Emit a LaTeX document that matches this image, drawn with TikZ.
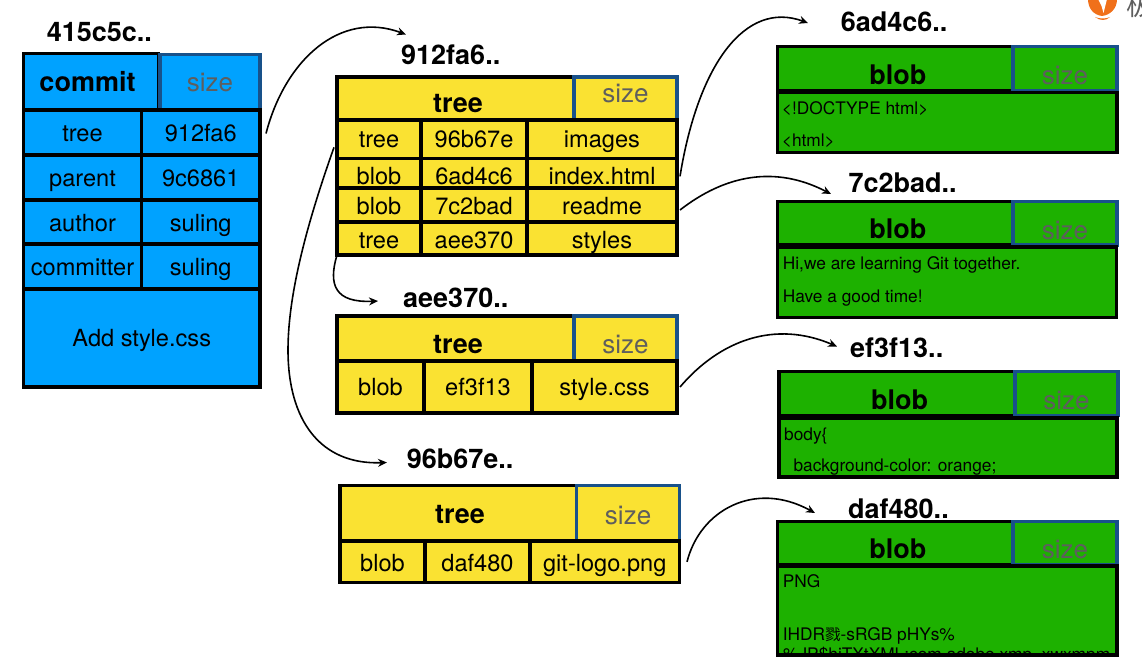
\documentclass[tikz,border=0pt]{standalone}
\usepackage{fontspec}
\setmainfont{TeX Gyre Heros}
\newfontfamily\cjkfont{Noto Sans CJK SC}
\usetikzlibrary{arrows.meta}
\definecolor{commitblue}{HTML}{00A2FF}
\definecolor{treeyellow}{HTML}{FAE232}
\definecolor{blobgreen}{HTML}{1DB100}
\definecolor{sizeline}{HTML}{18518A}
\definecolor{sizegray}{HTML}{5E5E5E}
\definecolor{logoorange}{HTML}{F0701A}
\newcommand{\cellbox}[7][]{\node[cell,#1,minimum width={(#5-#3)*1pt},minimum height={(#6-#4)*1pt}] (#2) at ({(#3+#5)/2},{(#4+#6)/2}) {#7};}
\tikzset{
    cell/.style = {draw=black, line width=3.4pt, inner sep=0pt, outer sep=0pt, font=\fontsize{23.6}{28}\selectfont, drop=17pt},
    drop/.style = {text height=#1, text depth=0pt},
    commitcell/.style = {cell, fill=commitblue},
    treecell/.style = {cell, fill=treeyellow},
    blobcell/.style = {cell, fill=blobgreen},
    headtext/.style = {font=\fontsize{27}{30}\selectfont\bfseries},
    sizetext/.style = {draw=sizeline, text=sizegray, font=\fontsize{26}{30}\selectfont},
    hash/.style = {inner sep=0pt, anchor=base west, font=\fontsize{27}{30}\selectfont\bfseries},
    bodytext/.style = {inner sep=0pt, anchor=base west, font=\fontsize{17.3}{20}\selectfont},
    link/.style = {line width=1.6pt, -{Stealth[length=9pt,width=8pt]}}
}
\begin{document}
\begin{tikzpicture}[x=1pt,y=-1pt]
    \useasboundingbox (0,0) rectangle (1142,669);

    \node[hash] (lblCommit) at (46.7,41.7) {415c5c..};
    \cellbox[commitcell,headtext,drop=20pt]{cHead}{23.5}{53.5}{158.5}{110}{commit\kern7pt}
    \cellbox[commitcell,sizetext,drop=18pt]{cSize}{160}{54.5}{260}{110}{size}
    \cellbox[commitcell]{cTreeK}{23.5}{110}{141.5}{155}{tree}
    \cellbox[commitcell]{cTreeV}{141.5}{110}{260}{155}{912fa6}
    \cellbox[commitcell]{cParentK}{23.5}{155}{141.5}{200}{parent}
    \cellbox[commitcell]{cParentV}{141.5}{155}{260}{200}{9c6861}
    \cellbox[commitcell,drop=18pt]{cAuthorK}{23.5}{200}{141.5}{244}{author}
    \cellbox[commitcell,drop=18pt]{cAuthorV}{141.5}{200}{260}{244}{suling}
    \cellbox[commitcell]{cCommitterK}{23.5}{244}{141.5}{289}{committer}
    \cellbox[commitcell]{cCommitterV}{141.5}{244}{260}{289}{suling}
    \cellbox[commitcell,drop=17pt]{cMsg}{23.5}{289}{260}{387}{Add style.css}

    \node[hash] (lblRoot) at (401,64.5) {912fa6..};
    \cellbox[treecell,headtext,drop=28pt]{rHead}{337}{77}{579}{120}{tree}
    \cellbox[treecell,sizetext,drop=8.4pt]{rSize}{574}{77}{677}{120}{size}
    \cellbox[treecell,drop=16pt]{rImgA}{337}{120}{421}{158.7}{tree}
    \cellbox[treecell,drop=16pt]{rImgB}{421}{120}{527}{158.7}{96b67e}
    \cellbox[treecell,drop=16pt]{rImgC}{527}{120}{677}{158.7}{images}
    \cellbox[treecell,drop=22pt]{rIdxA}{337}{158.7}{421}{188}{blob}
    \cellbox[treecell,drop=22pt]{rIdxB}{421}{158.7}{527}{188}{6ad4c6}
    \cellbox[treecell,drop=22pt]{rIdxC}{527}{158.7}{677}{188}{index.html}
    \cellbox[treecell,drop=18pt]{rReadA}{337}{188}{421}{222}{blob}
    \cellbox[treecell,drop=18pt]{rReadB}{421}{188}{527}{222}{7c2bad}
    \cellbox[treecell,drop=18pt]{rReadC}{527}{188}{677}{222}{readme}
    \cellbox[treecell,drop=19pt]{rStyA}{337}{222}{421}{255}{tree}
    \cellbox[treecell,drop=19pt]{rStyB}{421}{222}{527}{255}{aee370}
    \cellbox[treecell,drop=19pt]{rStyC}{527}{222}{677}{255}{styles}

    \node[hash] (lblStyles) at (403,307) {aee370..};
    \cellbox[treecell,headtext,drop=30pt]{sHead}{337}{316}{579}{361}{tree}
    \cellbox[treecell,sizetext,drop=30pt]{sSize}{574}{316}{677}{361}{size}
    \cellbox[treecell,drop=16pt]{sCssA}{337}{361}{424}{413}{blob}
    \cellbox[treecell,drop=16pt]{sCssB}{424}{361}{532}{413}{ef3f13}
    \cellbox[treecell,drop=16pt]{sCssC}{532}{361}{677}{413}{style.css}

    \node[hash] (lblImages) at (406.7,468.7) {96b67e..};
    \cellbox[treecell,headtext,drop=21pt]{iHead}{340}{485.7}{580}{541}{tree}
    \cellbox[treecell,sizetext,drop=21.4pt]{iSize}{576.7}{485.7}{679.5}{541}{size}
    \cellbox[treecell,drop=19pt]{iPngA}{340}{541}{425}{582.7}{blob}
    \cellbox[treecell,drop=19pt]{iPngB}{425}{541}{530}{582.7}{daf480}
    \cellbox[treecell,drop=19pt]{iPngC}{530}{541}{679.5}{582.7}{git-logo.png}

    \node[hash] (lblHtml) at (840.7,31.7) {6ad4c6..};
    \cellbox[blobcell,headtext,drop=32pt]{hHead}{777.5}{46.7}{1018}{90.5}{blob}
    \cellbox[blobcell,sizetext,drop=32pt]{hSize}{1013}{46.7}{1117}{90.5}{size}
    \cellbox[blobcell]{hBody}{777.5}{92.7}{1117}{152.7}{}
    \node[bodytext] (hLineA) at (781.7,114.5) {<!DOCTYPE html>};
    \node[bodytext] (hLineB) at (781.7,146.5) {<html>};

    \node[hash] (lblRead) at (848.3,192.7) {7c2bad..};
    \cellbox[blobcell,headtext,drop=31pt]{dHead}{777.5}{201.7}{1018}{245}{blob}
    \cellbox[blobcell,sizetext,drop=31.6pt]{dSize}{1013}{201.7}{1117}{245}{size}
    \cellbox[blobcell]{dBody}{777.5}{247}{1116.7}{317.5}{}
    \node[bodytext] (dLineA) at (782.7,269.7) {Hi,we are learning Git together.};
    \node[bodytext] (dLineB) at (782.7,302) {Have a good time!};

    \node[hash] (lblCss) at (850,357) {ef3f13..};
    \cellbox[blobcell,headtext,drop=32pt]{yHead}{779}{371.7}{1020}{415.5}{blob}
    \cellbox[blobcell,sizetext,drop=32pt]{ySize}{1015}{371.7}{1118}{415.5}{size}
    \cellbox[blobcell]{yBody}{779}{418}{1117}{477}{}
    \node[bodytext] (yLineA) at (784,440) {body\{};
    \node[bodytext] (yLineB) at (793.3,471.4) {background-color: orange;};

    \node[hash] (lblPng) at (848,518.3) {daf480..};
    \cellbox[blobcell,headtext,drop=31pt]{pHead}{777.5}{521.7}{1018}{565}{blob}
    \cellbox[blobcell,sizetext,drop=31pt]{pSize}{1013}{521.7}{1117}{565}{size}
    \cellbox[blobcell]{pBody}{777.5}{566}{1117}{655}{}
    \node[bodytext] (pLineA) at (782.7,587.4) {PNG};
    \node[bodytext] (pLineB) at (782.7,640) {IHDR{\cjkfont\fontsize{15.5}{20}\selectfont 戮}-sRGB pHYs\%};
    \begin{scope}
        \clip (pBody.north west) rectangle (pBody.south east);
        \node[bodytext] (pLineC) at (783,660.5) {\%JP\$hiTXtXML:com.adobe.xmp\ \ xwxmpm};
    \end{scope}

    \coordinate (toRoot) at (406,34.5);
    \coordinate (toStyles) at (378,301);
    \coordinate (toImages) at (387,462.5);
    \coordinate (toHtml) at (808,23);
    \coordinate (toRead) at (831,194);
    \coordinate (toCss) at (837,346.5);
    \coordinate (toPng) at (815,513);

    \draw[link] ([shift={(6pt,-1pt)}]cTreeV.east) .. controls (285,60) and (340,10) .. (toRoot);
    \draw[link] ([shift={(-3pt,-8pt)}]rImgA.west) .. controls (310,215) and (288,290) .. (288,350) .. controls (288,420) and (320,465) .. (toImages);
    \draw[link] (rStyA.south west) .. controls (328,285) and (335,303) .. (toStyles);
    \draw[link] ([shift={(3pt,-3pt)}]rIdxC.east) .. controls (698,65) and (745,0) .. (toHtml);
    \draw[link] ([shift={(3pt,-5pt)}]rReadC.east) .. controls (725,175) and (775,165) .. (toRead);
    \draw[link] ([xshift=3pt]sCssC.east) .. controls (720,340) and (775,320) .. (toCss);
    \draw[link] ([xshift=7.5pt]iPngC.east) .. controls (700,510) and (755,480) .. (toPng);

    \fill[logoorange] (1088,-1) .. controls (1088,9) and (1094,15) .. (1102,16) .. controls (1110,15) and (1117,9) .. (1117,-1) -- cycle;
    \fill[white] (1098,-1) -- (1107,-1) -- (1103.5,13) -- (1101.5,6) -- cycle;
    \fill[logoorange] (1095,17) .. controls (1100,21) and (1106,21) .. (1110,17) .. controls (1106,19) and (1100,19) .. (1095,17) -- cycle;
    \node[inner sep=0pt, anchor=base west, text=sizegray, font=\fontsize{27}{30}\selectfont\cjkfont] (logoText) at (1126,16) {极};
\end{tikzpicture}
\end{document}
